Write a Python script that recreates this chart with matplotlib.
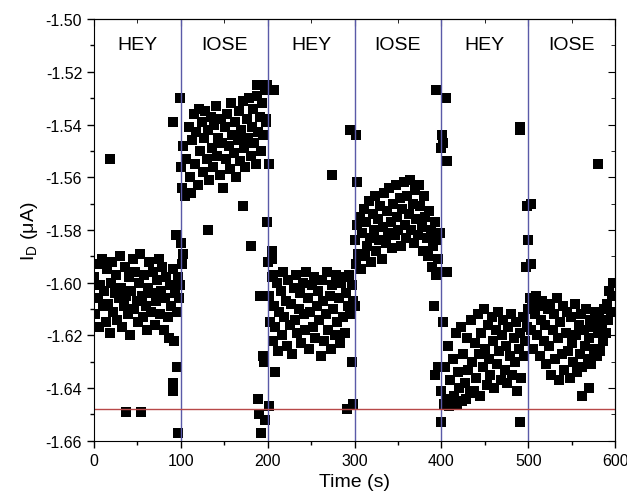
import numpy as np
import matplotlib.pyplot as plt

plt.rcParams['font.family'] = ['Liberation Sans', 'DejaVu Sans']

# drain current (uA) per exposure window, sampled evenly over each 100 s window
hey1 = [-1.598, -1.612, -1.593, -1.606, -1.617, -1.601, -1.591, -1.609, -1.603, -1.615,
        -1.595, -1.608, -1.619, -1.600, -1.592, -1.611, -1.604, -1.597, -1.614, -1.606,
        -1.590, -1.602, -1.617, -1.609, -1.594, -1.605, -1.612, -1.598, -1.620, -1.603,
        -1.591, -1.610, -1.596, -1.607, -1.615, -1.600, -1.589, -1.605, -1.613, -1.597,
        -1.609, -1.618, -1.602, -1.592, -1.611, -1.604, -1.596, -1.616, -1.607, -1.599,
        -1.591, -1.612, -1.603, -1.594, -1.618, -1.606, -1.598, -1.613, -1.621, -1.601,
        -1.609, -1.595, -1.622, -1.604, -1.611, -1.598, -1.606]
iose1 = [-1.556, -1.564, -1.548, -1.567, -1.553, -1.566, -1.541, -1.560, -1.566, -1.546,
         -1.536, -1.555, -1.543, -1.563, -1.534, -1.550, -1.539, -1.558, -1.545, -1.535,
         -1.553, -1.542, -1.561, -1.537, -1.549, -1.556, -1.540, -1.533, -1.552, -1.545,
         -1.559, -1.538, -1.547, -1.564, -1.541, -1.553, -1.536, -1.548, -1.557, -1.532,
         -1.544, -1.551, -1.539, -1.560, -1.546, -1.535, -1.554, -1.542, -1.531, -1.549,
         -1.556, -1.538, -1.545, -1.530, -1.552, -1.541, -1.534, -1.547, -1.555, -1.529,
         -1.543, -1.537, -1.550, -1.532, -1.544, -1.527, -1.539]
hey2 = [-1.592, -1.605, -1.615, -1.598, -1.622, -1.609, -1.617, -1.600, -1.626, -1.611,
        -1.603, -1.620, -1.596, -1.613, -1.607, -1.624, -1.599, -1.616, -1.608, -1.627,
        -1.602, -1.614, -1.597, -1.619, -1.610, -1.604, -1.623, -1.600, -1.612, -1.618,
        -1.596, -1.606, -1.625, -1.611, -1.601, -1.617, -1.598, -1.621, -1.609, -1.603,
        -1.614, -1.628, -1.599, -1.607, -1.622, -1.612, -1.596, -1.618, -1.605, -1.625,
        -1.601, -1.610, -1.620, -1.597, -1.615, -1.606, -1.623, -1.600, -1.613, -1.598,
        -1.619, -1.604, -1.609, -1.597, -1.612, -1.601, -1.607]
iose2 = [-1.584, -1.593, -1.578, -1.589, -1.575, -1.595, -1.581, -1.572, -1.590, -1.577,
         -1.586, -1.569, -1.583, -1.592, -1.574, -1.580, -1.567, -1.588, -1.576, -1.584,
         -1.571, -1.591, -1.579, -1.566, -1.585, -1.573, -1.581, -1.564, -1.577, -1.587,
         -1.570, -1.582, -1.563, -1.575, -1.580, -1.568, -1.586, -1.572, -1.562, -1.578,
         -1.583, -1.567, -1.574, -1.561, -1.580, -1.570, -1.585, -1.565, -1.576, -1.582,
         -1.563, -1.571, -1.579, -1.588, -1.567, -1.575, -1.583, -1.590, -1.573, -1.580,
         -1.594, -1.586, -1.577, -1.597, -1.584, -1.591, -1.581]
hey3 = [-1.641, -1.615, -1.646, -1.632, -1.644, -1.624, -1.647, -1.637, -1.645, -1.629,
        -1.643, -1.619, -1.646, -1.634, -1.640, -1.617, -1.645, -1.627, -1.638, -1.644,
        -1.621, -1.633, -1.642, -1.614, -1.630, -1.641, -1.623, -1.636, -1.612, -1.627,
        -1.643, -1.619, -1.632, -1.610, -1.625, -1.639, -1.616, -1.629, -1.635, -1.613,
        -1.622, -1.640, -1.618, -1.631, -1.611, -1.626, -1.637, -1.620, -1.614, -1.633,
        -1.624, -1.638, -1.617, -1.628, -1.612, -1.635, -1.621, -1.630, -1.615, -1.641,
        -1.625, -1.619, -1.636, -1.613, -1.628, -1.622, -1.617]
iose3 = [-1.610, -1.606, -1.618, -1.608, -1.625, -1.612, -1.605, -1.620, -1.609, -1.628,
         -1.614, -1.607, -1.622, -1.616, -1.631, -1.610, -1.624, -1.608, -1.635, -1.618,
         -1.612, -1.629, -1.606, -1.621, -1.637, -1.615, -1.627, -1.609, -1.633, -1.619,
         -1.611, -1.626, -1.636, -1.613, -1.623, -1.630, -1.608, -1.620, -1.634, -1.616,
         -1.627, -1.612, -1.632, -1.618, -1.624, -1.610, -1.629, -1.621, -1.614, -1.631,
         -1.617, -1.625, -1.611, -1.628, -1.619, -1.613, -1.626, -1.616, -1.622, -1.610,
         -1.619, -1.608, -1.614, -1.603, -1.611, -1.605, -1.600]

# spikes around the gas switches
spike_t = [18, 37, 54, 91, 91, 91, 94, 95, 97, 99, 99, 100, 101, 102,
           131, 171, 181, 188, 189, 190, 191, 192, 195, 196, 196, 197, 198, 199, 199, 201, 201,
           205, 205, 206, 207, 208, 274, 291, 295, 297, 298, 301, 302, 303,
           391, 393, 394, 396, 399, 399, 400, 401, 402, 405, 406, 407,
           490, 490, 491, 497, 499, 500, 503, 503, 562, 570, 580]
spike_i = [-1.553, -1.649, -1.649, -1.539, -1.638, -1.641, -1.582, -1.632, -1.657, -1.530, -1.601,
           -1.585, -1.593, -1.589,
           -1.580, -1.571, -1.586, -1.525, -1.644, -1.650, -1.605, -1.657, -1.628, -1.630, -1.544,
           -1.652, -1.538, -1.525, -1.577, -1.555, -1.647,
           -1.588, -1.591, -1.597, -1.527, -1.634, -1.559, -1.648, -1.542, -1.630, -1.646,
           -1.609, -1.544, -1.562,
           -1.609, -1.635, -1.527, -1.632, -1.653, -1.596, -1.549, -1.544, -1.547, -1.530,
           -1.596, -1.554,
           -1.653, -1.542, -1.541, -1.594, -1.571, -1.584, -1.570, -1.593, -1.643, -1.640, -1.555]

gases = ['HEY', 'IOSE', 'HEY', 'IOSE', 'HEY', 'IOSE']
switch_times = [100, 200, 300, 400, 500]
baseline = -1.648

fig = plt.figure(figsize=(6.27, 5.02), dpi=100)
ax = fig.add_axes([0.150, 0.120, 0.831, 0.840])

segments = [hey1, iose1, hey2, iose2, hey3, iose3]
for k, seg in enumerate(segments):
    t = np.linspace(100 * k, 100 * k + 98, len(seg))
    ax.plot(t, seg, 's', color='black', ms=6.5, mew=0)
ax.plot(spike_t, spike_i, 's', color='black', ms=6.5, mew=0)

for xs in switch_times:
    ax.axvline(xs, color='#5a5aa8', lw=1)
ax.axhline(baseline, color='#b84848', lw=1)

for k, g in enumerate(gases):
    ax.text(100 * k + 50, -1.5065, g, ha='center', va='top', fontsize=14)

ax.set_xlim(0, 600)
ax.set_ylim(-1.66, -1.50)
ax.set_xticks(np.arange(0, 601, 100))
ax.set_xticks(np.arange(50, 600, 100), minor=True)
ax.set_yticks(np.arange(-1.66, -1.499, 0.02))
ax.set_yticks(np.arange(-1.65, -1.50, 0.02), minor=True)
ax.yaxis.set_major_formatter(plt.FormatStrFormatter('%.2f'))
ax.tick_params(which='both', labelsize=11.5, width=1)
ax.tick_params(which='major', length=5)
ax.tick_params(which='minor', length=3)

# mirror ticks on top/right, pointing inward
top = ax.secondary_xaxis('top')
top.set_xticks(np.arange(0, 601, 100))
top.set_xticks(np.arange(50, 600, 100), minor=True)
top.tick_params(which='both', direction='in', labeltop=False)
top.tick_params(which='major', length=5)
top.tick_params(which='minor', length=3)
right = ax.secondary_yaxis('right')
right.set_yticks(np.arange(-1.66, -1.499, 0.02))
right.set_yticks(np.arange(-1.65, -1.50, 0.02), minor=True)
right.tick_params(which='both', direction='in', labelright=False)
right.tick_params(which='major', length=5)
right.tick_params(which='minor', length=3)

ax.set_xlabel('Time (s)', fontsize=14)
ax.set_ylabel(r'I$_\mathregular{D}$ ($\mathregular{\mu}$A)', fontsize=14)

fig.savefig('out.png', dpi=100)
